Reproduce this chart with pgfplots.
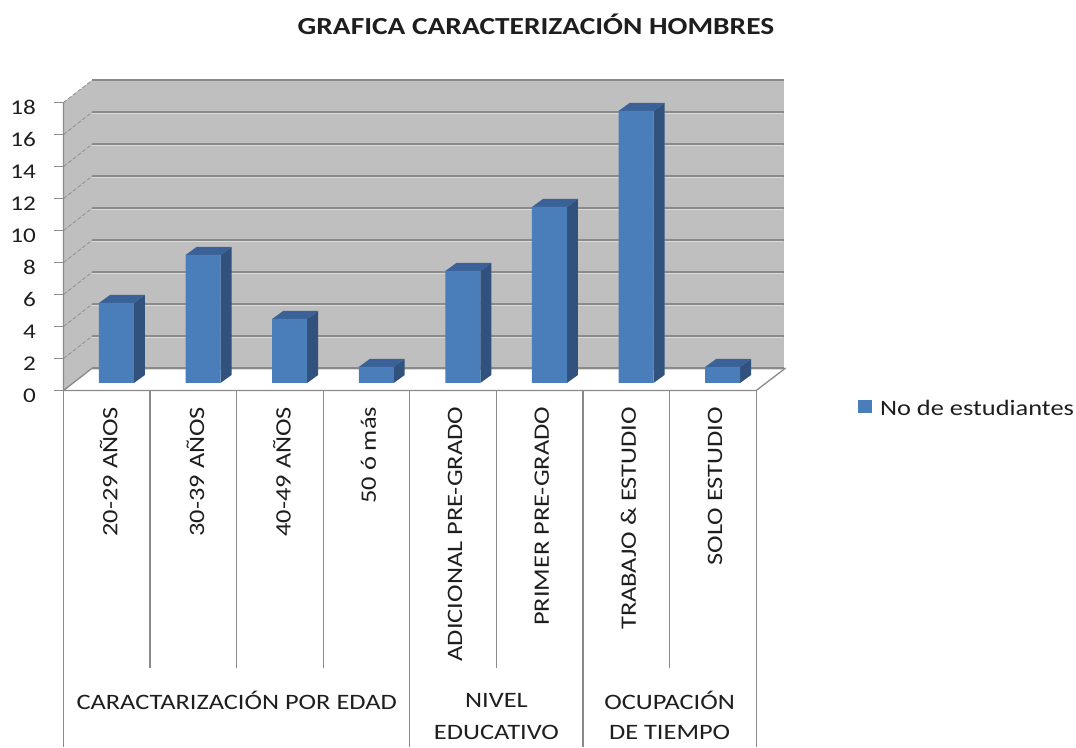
\documentclass[border=0pt]{standalone}
\usepackage{fontspec}
\setmainfont[FakeStretch=1.2]{Carlito}
\usepackage{pgfplots}
\pgfplotsset{compat=1.18}
\definecolor{wallc}{HTML}{BFBFBF}
\definecolor{gridc}{HTML}{8A8A8A}
\definecolor{lightc}{HTML}{DADADA}
\definecolor{frontc}{HTML}{4A7EBB}
\definecolor{sidec}{HTML}{30527D}
\definecolor{topc}{HTML}{3A6298}
\definecolor{txt}{HTML}{1E1E1E}
% depth faces of one bar: #1 = category index, #2 = value
\newcommand{\depthbar}[2]{%
  \pgfmathsetmacro{\xl}{#1+0.41}\pgfmathsetmacro{\xr}{#1+0.814}%
  \pgfmathsetmacro{\xrb}{#1+0.941}\pgfmathsetmacro{\xlb}{#1+0.537}%
  \pgfmathsetmacro{\yt}{#2+0.469}\pgfmathsetmacro{\ytb}{#2+0.969}%
  \edef\tmp{\noexpand\addplot[fill=sidec,draw=none,forget plot] coordinates {(\xr,0.469) (\xr,\yt) (\xrb,\ytb) (\xrb,0.969)} -- cycle;%
  \noexpand\addplot[fill=topc,draw=none,forget plot] coordinates {(\xl,\yt) (\xr,\yt) (\xrb,\ytb) (\xlb,\ytb)} -- cycle;}\tmp}
\begin{document}
\begin{tikzpicture}[x=1pt,y=1pt]
\begin{axis}[
  scale only axis, width=692.8pt, height=288pt,
  xmin=0, xmax=8, ymin=0, ymax=18,
  clip=false,
  axis lines=left,
  axis line style={-,draw=gridc,line width=1.3pt},
  ytick={0,2,...,18},
  xtick={0.5,1.5,...,7.5},
  xticklabels={20-29 AÑOS,30-39 AÑOS,40-49 AÑOS,50 ó más,ADICIONAL PRE-GRADO,PRIMER PRE-GRADO,TRABAJO \& ESTUDIO,SOLO ESTUDIO},
  tick align=outside,
  major tick length=9pt,
  y tick style={draw=gridc,line width=1.3pt},
  x tick style={draw=none},
  /pgf/number format/assume math mode=true,
  yticklabel style={font=\fontsize{21}{24}\selectfont,text=txt,xshift=-15pt,yshift=-5pt},
  xticklabel style={font=\fontsize{22}{24}\selectfont,text=txt,rotate=90,anchor=east,yshift=-2pt,xshift=-4pt},
  title={\textbf{GRAFICA CARACTERIZACIÓN HOMBRES}},
  title style={at={(rel axis cs:0.682,1.25)},anchor=center,font=\fontsize{24.5}{28}\selectfont,text=txt},
  legend style={at={(axis cs:9.173,-1.12)},anchor=west,draw=none,fill=none,font=\fontsize{22}{24}\selectfont,text=txt,inner sep=0pt,legend cell align=left,/tikz/every odd column/.append style={column sep=6pt}},
  legend image code/.code={\fill[frontc] (0pt,-12.5pt) rectangle (14pt,0.5pt);},
]
% floor
\addplot[fill=white,draw=none,forget plot] coordinates {(0,0) (8,0) (8.34,1.406) (0.335,1.406)} -- cycle;
% back wall and left wall
\addplot[fill=wallc,draw=none,forget plot] coordinates {(0.335,1.406) (8.32,1.406) (8.32,19.406) (0.335,19.406)} -- cycle;
\addplot[fill=wallc,draw=none,forget plot] coordinates {(0,0) (0,18) (0.335,19.406) (0.335,1.406)} -- cycle;
% light highlights under the grid lines
\addplot[lightc,line width=1.1pt,forget plot,unbounded coords=jump] coordinates {
 (0.335,1.31) (8.31,1.31) (0.335,nan)
 (0.335,3.31) (8.31,3.31) (0.335,nan)
 (0.335,5.31) (8.31,5.31) (0.335,nan)
 (0.335,7.31) (8.31,7.31) (0.335,nan)
 (0.335,9.31) (8.31,9.31) (0.335,nan)
 (0.335,11.31) (8.31,11.31) (0.335,nan)
 (0.335,13.31) (8.31,13.31) (0.335,nan)
 (0.335,15.31) (8.31,15.31) (0.335,nan)
 (0.335,17.31) (8.31,17.31)};
% grid lines on the back wall
\addplot[gridc,line width=1.1pt,forget plot,unbounded coords=jump] coordinates {
 (0.335,1.406) (8.32,1.406) (0.335,nan)
 (0.335,3.406) (8.32,3.406) (0.335,nan)
 (0.335,5.406) (8.32,5.406) (0.335,nan)
 (0.335,7.406) (8.32,7.406) (0.335,nan)
 (0.335,9.406) (8.32,9.406) (0.335,nan)
 (0.335,11.406) (8.32,11.406) (0.335,nan)
 (0.335,13.406) (8.32,13.406) (0.335,nan)
 (0.335,15.406) (8.32,15.406) (0.335,nan)
 (0.335,17.406) (8.32,17.406) (0.335,nan)
 (0.335,19.406) (8.32,19.406)};
% dashed lines on the left wall
\addplot[gridc,line width=0.7pt,dash pattern=on 4pt off 2pt,forget plot,unbounded coords=jump] coordinates {
 (0,2) (0.335,3.406) (0,nan)
 (0,4) (0.335,5.406) (0,nan)
 (0,6) (0.335,7.406) (0,nan)
 (0,8) (0.335,9.406) (0,nan)
 (0,10) (0.335,11.406) (0,nan)
 (0,12) (0.335,13.406) (0,nan)
 (0,14) (0.335,15.406) (0,nan)
 (0,16) (0.335,17.406) (0,nan)
 (0,18) (0.335,19.406)};
% floor edges and front axis lines
\addplot[gridc,line width=1.3pt,forget plot,unbounded coords=jump] coordinates {
 (0,0) (0.335,1.406) (0,nan)
 (8,0) (8.34,1.406) (0,nan)
 (0,0) (8,0) (0,nan)
 (0,0) (0,18)};
% bar depth faces
\depthbar{0}{5}
\depthbar{1}{8}
\depthbar{2}{4}
\depthbar{3}{1}
\depthbar{4}{7}
\depthbar{5}{11}
\depthbar{6}{17}
\depthbar{7}{1}
% bar fronts
\addplot[ybar,bar width=35pt,bar shift=0pt,fill=frontc,draw=none,xshift=9.7pt,yshift=7.5pt] coordinates {
 (0.5,5) (1.5,8) (2.5,4) (3.5,1) (4.5,7) (5.5,11) (6.5,17) (7.5,1)};
\addlegendentry{No de estudiantes}
% category separators
\addplot[gridc,line width=1.2pt,forget plot,unbounded coords=jump] coordinates {
 (0,0) (0,-22.28) (0,nan)
 (1,0) (1,-17.34) (1,nan)
 (2,0) (2,-17.34) (2,nan)
 (3,0) (3,-17.34) (3,nan)
 (4,0) (4,-22.28) (4,nan)
 (5,0) (5,-17.34) (5,nan)
 (6,0) (6,-22.28) (6,nan)
 (7,0) (7,-17.34) (7,nan)
 (8,0) (8,-22.28)};
% group labels
\node[font=\fontsize{22}{24}\selectfont,text=txt] at (axis cs:2,-19.4) {CARACTARIZACIÓN POR EDAD};
\node[font=\fontsize{22}{24}\selectfont,text=txt] at (axis cs:5,-19.4) {NIVEL};
\node[font=\fontsize{22}{24}\selectfont,text=txt] at (axis cs:5,-21.4) {EDUCATIVO};
\node[font=\fontsize{22}{24}\selectfont,text=txt] at (axis cs:7,-19.4) {OCUPACIÓN};
\node[font=\fontsize{22}{24}\selectfont,text=txt] at (axis cs:7,-21.4) {DE TIEMPO};
% page extent
\path (axis cs:-0.733,-22.28) rectangle (axis cs:11.69,24.406);
\end{axis}
\end{tikzpicture}
\end{document}
